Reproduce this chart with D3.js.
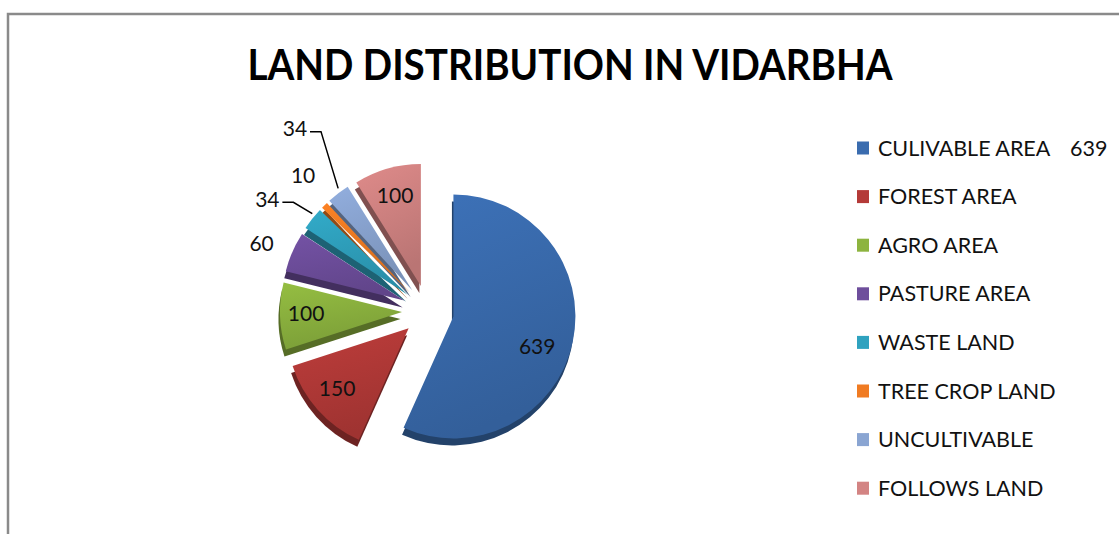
<!DOCTYPE html>
<html lang="en">
<head>
<meta charset="UTF-8">
<title>Land Distribution in Vidarbha</title>
<script src="https://cdnjs.cloudflare.com/ajax/libs/d3/7.8.5/d3.min.js"></script>
<style>
    body { margin: 0; background: #fff; }
    svg { display: block; font-family: Lato, "Open Sans", sans-serif; }
</style>
</head>
<body>
<svg id="chart" width="1119" height="534"></svg>
<script>
// data
const categories = ['CULIVABLE AREA', 'FOREST AREA', 'AGRO AREA', 'PASTURE AREA',
    'WASTE LAND', 'TREE CROP LAND', 'UNCULTIVABLE', 'FOLLOWS LAND'];
const values = [639, 150, 100, 60, 34, 10, 34, 100];
const colors = ['#3a6caf', '#b43a38', '#8db43f', '#6e4e9c', '#2fa2bf', '#f07b22', '#8aa5d2', '#d38483'];

// label placement (distance from centre, in radii, plus a small nudge) and leader lines
const labelDist = [0.94, 0.98, 1.0, 1.47, 1.6, 1.51, 1.85, 0.98];
const labelNudge = [[-3, 12], [-2, -2], [0, -2], [-2, 4], [-8, 10], [4, -4], [4, -3], [0, 0]];
const leaders = [false, false, false, false, true, false, true, false];

const svg = d3.select('#chart');
const cx = 428, cy = 311, r = 122, explode = 26;

// chart border (top + left visible)
svg.append('path')
    .attr('d', 'M8,534 L8,14 L1119,14')
    .attr('fill', 'none')
    .attr('stroke', '#8a8a8a')
    .attr('stroke-width', 2.5);

svg.append('text')
    .attr('x', 570).attr('y', 80)
    .attr('text-anchor', 'middle')
    .attr('font-size', 42)
    .attr('font-weight', 'bold')
    .attr('textLength', 645)
    .attr('lengthAdjust', 'spacingAndGlyphs')
    .text('LAND DISTRIBUTION IN VIDARBHA');

const pie = d3.pie().sort(null).value(d => d)(values);
const arc = d3.arc().innerRadius(0).outerRadius(r);

const defs = svg.append('defs');
colors.forEach((c, i) => {
    const g = defs.append('linearGradient')
        .attr('id', 'grad' + i)
        .attr('x1', 0).attr('y1', 0).attr('x2', 0.3).attr('y2', 1);
    g.append('stop').attr('offset', '0%').attr('stop-color', d3.color(c).brighter(0.15));
    g.append('stop').attr('offset', '100%').attr('stop-color', d3.color(c).darker(0.35));
});

function shift(d) {
    const a = (d.startAngle + d.endAngle) / 2;
    return [Math.sin(a) * explode, -Math.cos(a) * explode];
}

const slices = svg.append('g').attr('transform', `translate(${cx},${cy})`);

// 3d side: darker copy pushed down a little
slices.selectAll('path.side')
    .data(pie)
    .enter().append('path')
    .attr('class', 'side')
    .attr('d', arc)
    .attr('fill', (d, i) => d3.color(colors[i]).darker(1.4))
    .attr('transform', d => {
        const [dx, dy] = shift(d);
        return `translate(${dx - 1.5},${dy + 7})`;
    });

slices.selectAll('path.top')
    .data(pie)
    .enter().append('path')
    .attr('class', 'top')
    .attr('d', arc)
    .attr('fill', (d, i) => `url(#grad${i})`)
    .attr('transform', d => {
        const [dx, dy] = shift(d);
        return `translate(${dx},${dy})`;
    });

// data labels
pie.forEach((d, i) => {
    const a = (d.startAngle + d.endAngle) / 2;
    const lr = labelDist[i] * r;
    const lx = cx + Math.sin(a) * lr + labelNudge[i][0];
    const ly = cy - Math.cos(a) * lr + labelNudge[i][1];
    svg.append('text')
        .attr('x', lx).attr('y', ly)
        .attr('dy', '0.35em')
        .attr('text-anchor', 'middle')
        .attr('font-size', 21)
        .attr('fill', '#111')
        .text(values[i]);
    if (leaders[i]) {
        const er = r + explode;
        const ex = cx + Math.sin(a) * er;
        const ey = cy - Math.cos(a) * er;
        const sx = lx + 15;
        svg.append('path')
            .attr('d', `M${sx},${ly + 3} L${sx + 11},${ly + 3} L${ex},${ey - 5}`)
            .attr('fill', 'none')
            .attr('stroke', '#000')
            .attr('stroke-width', 1.5);
    }
});

// legend
const legend = svg.append('g').attr('transform', 'translate(857,148)');
const rows = legend.selectAll('g')
    .data(categories)
    .enter().append('g')
    .attr('transform', (d, i) => `translate(0,${i * 48.6})`);
rows.append('rect')
    .attr('x', 0).attr('y', -6.5)
    .attr('width', 12).attr('height', 13)
    .attr('fill', (d, i) => colors[i]);
rows.append('text')
    .attr('x', 21).attr('dy', '0.35em')
    .attr('font-size', 21.5)
    .attr('fill', '#111')
    .text(d => d);
legend.append('text')
    .attr('x', 213).attr('dy', '0.35em')
    .attr('font-size', 21.5)
    .attr('fill', '#111')
    .text(values[0]);
</script>
</body>
</html>
